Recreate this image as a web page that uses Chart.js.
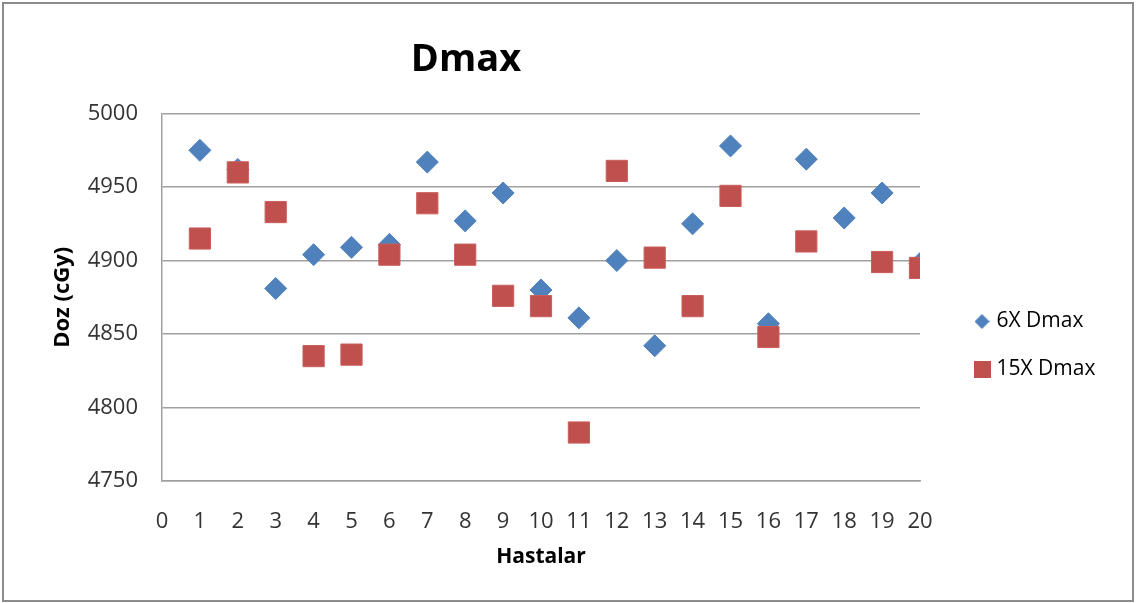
<!DOCTYPE html>
<html>
<head>
<meta charset="utf-8">
<script src="https://cdn.jsdelivr.net/npm/chart.js@4/dist/chart.umd.min.js"></script>
<style>
  html, body { margin: 0; padding: 0; background: #ffffff; }
  #wrap { width: 1136px; height: 603px; position: relative; }
</style>
</head>
<body>
<div id="wrap"><canvas id="chart" width="1136" height="603"></canvas></div>
<script>
// Patient numbers and Dmax doses (cGy) for each beam energy
const patients6X = [1, 2, 3, 4, 5, 6, 7, 8, 9, 10, 11, 12, 13, 14, 15, 16, 17, 18, 19, 20];
const dose6X = [4975, 4962, 4881, 4904, 4909, 4911, 4967, 4927, 4946, 4880,
                4861, 4900, 4842, 4925, 4978, 4857, 4969, 4929, 4946, 4898];

const patients15X = [1, 2, 3, 4, 5, 6, 7, 8, 9, 10, 11, 12, 13, 14, 15, 16, 17, 19, 20];
const dose15X = [4915, 4960, 4933, 4835, 4836, 4904, 4939, 4904, 4876, 4869,
                 4783, 4961, 4902, 4869, 4944, 4848, 4913, 4899, 4895];

const seriesLabels = ['6X Dmax', '15X Dmax'];
const seriesColors = ['#4F81BD', '#C0504D'];

// Axis ranges and tick spacing
const xRange = { min: 0, max: 20, step: 1 };
const yRange = { min: 4750, max: 5000, step: 50 };

const FONT = "'Open Sans', 'DejaVu Sans', sans-serif";

function toPoints(xs, ys) {
  return xs.map((x, i) => ({ x: x, y: ys[i] }));
}

// Small canvases used as legend symbols
function legendIcon(shape, color, size) {
  const c = document.createElement('canvas');
  c.width = size; c.height = size;
  const g = c.getContext('2d');
  g.fillStyle = color;
  g.beginPath();
  if (shape === 'diamond') {
    g.moveTo(size / 2, 0);
    g.lineTo(size, size / 2);
    g.lineTo(size / 2, size);
    g.lineTo(0, size / 2);
    g.closePath();
  } else {
    g.rect(0, 0, size, size);
  }
  g.fill();
  return c;
}
const legendIcons = [legendIcon('diamond', seriesColors[0], 15), legendIcon('square', seriesColors[1], 17)];

// Frame around the chart and placement of the title / legend blocks
const framePlugin = {
  id: 'frame',
  afterLayout(chart) {
    const t = chart.titleBlock;
    t.left = 0; t.right = 932;
    const lg = chart.legend;
    const h = lg.height;
    lg.left = 951; lg.right = 1130; lg.width = lg.right - lg.left;
    lg.top = 284; lg.bottom = lg.top + h;
  },
  beforeDraw(chart) {
    const ctx = chart.ctx;
    ctx.save();
    ctx.fillStyle = '#ffffff';
    ctx.fillRect(0, 0, chart.width, chart.height);
    ctx.strokeStyle = '#8c8c8c';
    ctx.lineWidth = 2;
    ctx.strokeRect(3, 3, chart.width - 6, chart.height - 5);
    ctx.restore();
  }
};

new Chart(document.getElementById('chart'), {
  type: 'scatter',
  data: {
    datasets: [
      {
        label: seriesLabels[0],
        data: toPoints(patients6X, dose6X),
        pointStyle: 'rectRot',
        pointRadius: 11,
        pointHoverRadius: 11,
        borderWidth: 1,
        backgroundColor: seriesColors[0],
        borderColor: seriesColors[0],
        order: 1
      },
      {
        label: seriesLabels[1],
        data: toPoints(patients15X, dose15X),
        pointStyle: 'rect',
        pointRadius: 15,
        pointHoverRadius: 15,
        borderWidth: 1,
        backgroundColor: seriesColors[1],
        borderColor: '#C95F5C',
        order: 0
      }
    ]
  },
  options: {
    responsive: false,
    animation: false,
    devicePixelRatio: 1,
    layout: { padding: { left: 0, top: 0, bottom: 0, right: 96 } },
    plugins: {
      tooltip: { enabled: false },
      title: {
        display: true,
        text: 'Dmax',
        color: '#000000',
        font: { family: FONT, size: 38, weight: 'bold' },
        lineHeight: 1.1,
        padding: { top: 37, bottom: 31 }
      },
      legend: {
        display: true,
        position: 'right',
        align: 'start',
        maxWidth: 120,
        labels: {
          usePointStyle: true,
          boxWidth: 8,
          padding: 27,
          color: '#000000',
          font: { family: FONT, size: 21 },
          generateLabels: (chart) => chart.data.datasets.map((ds, i) => ({
            text: ds.label,
            fillStyle: ds.backgroundColor,
            strokeStyle: ds.backgroundColor,
            lineWidth: 0,
            pointStyle: legendIcons[i],
            hidden: !chart.isDatasetVisible(i),
            datasetIndex: i,
            fontColor: '#000000'
          }))
        }
      }
    },
    scales: {
      x: {
        type: 'linear',
        min: xRange.min,
        max: xRange.max,
        afterFit: (s) => { s.height = 122; },
        grid: { display: false },
        border: { display: true, color: '#a0a0a0', width: 1.5 },
        ticks: {
          stepSize: xRange.step,
          autoSkip: false,
          maxRotation: 0,
          padding: 20,
          color: '#333333',
          font: { family: FONT, size: 22 }
        },
        title: {
          display: true,
          text: 'Hastalar',
          color: '#000000',
          font: { family: FONT, size: 21, weight: 'bold' },
          padding: { top: 0, bottom: 33 }
        }
      },
      y: {
        type: 'linear',
        min: yRange.min,
        max: yRange.max,
        afterFit: (s) => { s.width = 162; },
        grid: { color: '#a0a0a0', lineWidth: 1.5, drawTicks: false },
        border: { display: true, color: '#a0a0a0', width: 1.5 },
        ticks: {
          stepSize: yRange.step,
          padding: 24,
          color: '#333333',
          font: { family: FONT, size: 22 },
          callback: (v) => String(v)
        },
        title: {
          display: true,
          text: 'Doz (cGy)',
          color: '#000000',
          font: { family: FONT, size: 22, weight: 'bold' },
          padding: { top: 50, bottom: 0 }
        }
      }
    }
  },
  plugins: [framePlugin]
});
</script>
</body>
</html>
